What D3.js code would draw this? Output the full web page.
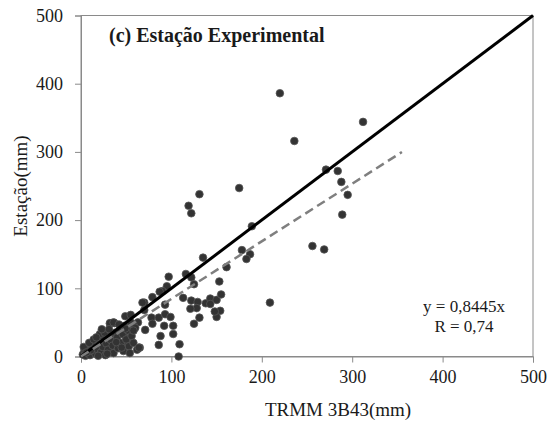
<!DOCTYPE html>
<html>
<head>
<meta charset="utf-8">
<script src="https://cdn.jsdelivr.net/npm/d3@7"></script>
<style>
  html, body { margin: 0; padding: 0; background: #fff; }
  svg { display: block; }
  text { font-family: "Liberation Serif", "Times New Roman", serif; fill: #1a1a1a; }
</style>
</head>
<body>
<svg id="chart" width="553" height="429"></svg>
<script>
// ---- data ----
const title = "(c) Estação Experimental";
const xLabel = "TRMM 3B43(mm)";
const yLabel = "Estação(mm)";
const xTicks = [0, 100, 200, 300, 400, 500];
const yTicks = [0, 100, 200, 300, 400, 500];
const equationText = "y = 0,8445x";
const rText = "R = 0,74";
const slope = 0.8445;
const trendEndX = 355;

// TRMM values (x) and station values (y)
const trmm = [
  220, 312, 236, 175, 131, 119, 122, 271, 284, 288, 295, 289, 189, 135, 178, 187, 183, 256, 269, 161,
  209, 97, 116, 122, 125, 153, 95, 90, 87, 79, 70, 113, 93, 122, 129, 128, 138, 143, 143, 150,
  155, 121, 131, 154, 150, 125, 49, 55, 63, 78, 79, 86, 93, 99, 92, 102, 71, 102, 88, 86,
  109, 65, 108, 58, 58, 54, 51, 47, 68, 70, 37, 32, 21, 49, 148,
  2, 4, 5, 7, 8, 10, 12, 13, 15, 16, 18, 20, 22, 24, 25, 27, 28, 30, 32, 33,
  35, 36, 38, 40, 41, 43, 44, 46, 47, 48, 50, 52, 53, 55, 56, 58, 60, 62, 21, 32,
  36, 49, 58, 64, 3, 9, 14, 26, 11, 19, 29, 39, 45, 54, 6, 17, 23, 31, 42
];
const estacao = [
  386, 344, 316, 247, 238, 221, 210, 274, 272, 256, 237, 208, 191, 145, 156, 150, 143, 162, 157, 131,
  79, 117, 121, 116, 106, 110, 103, 96, 95, 87, 79, 86, 76, 82, 80, 71, 78, 85, 77, 83,
  91, 70, 57, 67, 58, 48, 59, 61, 50, 57, 48, 57, 62, 58, 45, 45, 39, 33, 30, 17,
  18, 13, 0, 47, 38, 27, 21, 32, 79, 68, 49, 48, 32, 40, 66,
  3, 8, 1, 12, 5, 2, 15, 8, 18, 4, 11, 22, 6, 14, 27, 2, 19, 10, 31, 24,
  16, 5, 35, 28, 12, 40, 20, 33, 8, 45, 25, 38, 15, 50, 30, 20, 42, 10, 33, 49,
  50, 41, 38, 13, 14, 20, 25, 35, 9, 1, 4, 21, 13, 5, 6, 28, 40, 40, 47
];

// ---- layout ----
const svg = d3.select("#chart");
const x = d3.scaleLinear().domain([0, 500]).range([81, 533]);
const y = d3.scaleLinear().domain([0, 500]).range([356.5, 15.5]);

// frame
svg.append("rect")
  .attr("x", x(0)).attr("y", y(500))
  .attr("width", x(500) - x(0)).attr("height", y(0) - y(500))
  .attr("fill", "none").attr("stroke", "#8a8a8a").attr("stroke-width", 1);

// axes
const xAxis = d3.axisBottom(x).tickValues(xTicks).tickSize(6).tickPadding(8).tickFormat(d3.format("d"));
const yAxis = d3.axisLeft(y).tickValues(yTicks).tickSize(6).tickPadding(12).tickFormat(d3.format("d"));

const gx = svg.append("g").attr("transform", `translate(0,${y(0)})`).call(xAxis);
const gy = svg.append("g").attr("transform", `translate(${x(0)},0)`).call(yAxis);
[gx, gy].forEach(g => {
  g.select(".domain").attr("stroke", "#8a8a8a");
  g.selectAll(".tick line").attr("stroke", "#8a8a8a");
  g.selectAll(".tick text")
    .attr("font-family", "Liberation Serif, Times New Roman, serif")
    .attr("font-size", 18).attr("fill", "#1a1a1a");
});

// points
svg.append("g").selectAll("circle")
  .data(trmm.map((v, i) => [v, estacao[i]]))
  .join("circle")
  .attr("cx", d => x(d[0]))
  .attr("cy", d => y(d[1]))
  .attr("r", 3.8)
  .attr("fill", "#333333")
  .attr("stroke", "#555555")
  .attr("stroke-width", 0.8);

// 1:1 line
svg.append("line")
  .attr("x1", x(0)).attr("y1", y(0))
  .attr("x2", x(500)).attr("y2", y(500))
  .attr("stroke", "#000").attr("stroke-width", 3);

// trend line
svg.append("line")
  .attr("x1", x(0)).attr("y1", y(0))
  .attr("x2", x(trendEndX)).attr("y2", y(slope * trendEndX))
  .attr("stroke", "#7f7f7f").attr("stroke-width", 2.5)
  .attr("stroke-dasharray", "9,5");

// title
svg.append("text")
  .attr("x", 109).attr("y", 42)
  .attr("font-size", 20).attr("font-weight", "bold")
  .attr("fill", "#111")
  .text(title);

// equation
svg.append("text").attr("x", 464).attr("y", 312)
  .attr("text-anchor", "middle").attr("font-size", 17).text(equationText);
svg.append("text").attr("x", 464).attr("y", 332)
  .attr("text-anchor", "middle").attr("font-size", 17).text(rText);

// axis titles
svg.append("text")
  .attr("x", 338).attr("y", 416)
  .attr("text-anchor", "middle").attr("font-size", 19)
  .text(xLabel);
svg.append("text")
  .attr("transform", `translate(27,${(y(0) + y(500)) / 2}) rotate(-90)`)
  .attr("text-anchor", "middle").attr("font-size", 19)
  .text(yLabel);
</script>
</body>
</html>
